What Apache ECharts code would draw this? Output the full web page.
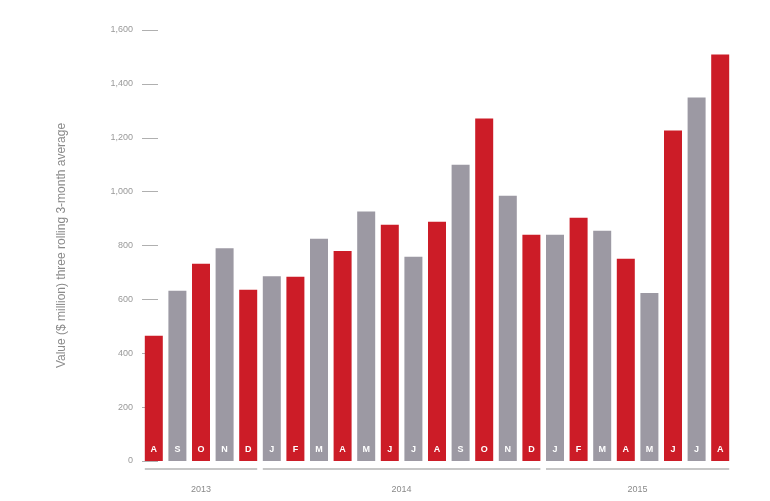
<!DOCTYPE html>
<html>
<head>
<meta charset="utf-8">
<script src="https://cdn.jsdelivr.net/npm/echarts@6/dist/echarts.min.js"></script>
<style>html,body{margin:0;padding:0;background:#fff;}#c{width:770px;height:501px;}</style>
</head>
<body>
<div id="c"></div>
<script>
var months = ['A','S','O','N','D','J','F','M','A','M','J','J','A','S','O','N','D','J','F','M','A','M','J','J','A'];
var values = [465,632,732,790,636,686,684,825,780,926,877,758,888,1100,1271,985,840,840,903,855,751,624,1227,1349,1509];
var years = ['2013','2014','2015'];
var yearStart = [0,5,17];
var yearEnd = [4,16,24];
var yTicks = [0,200,400,600,800,1000,1200,1400,1600];

var RED = '#cc1c27', GRAY = '#9c99a3';
var cats = months.map(function(m,i){return i+'';});
var yearData = years.map(function(y,i){return [yearStart[i], yearEnd[i], y];});

var chart = echarts.init(document.getElementById('c'), null, {renderer:'canvas'});
chart.setOption({
  animation:false,
  grid:{left:142,right:38,top:30,bottom:40},
  xAxis:{type:'category',data:cats,axisLine:{show:false},axisTick:{show:false},axisLabel:{show:false},splitLine:{show:false}},
  yAxis:{type:'value',min:yTicks[0],max:yTicks[yTicks.length-1],interval:200,
    name:'Value ($ million) three rolling 3-month average',nameLocation:'middle',nameGap:74,nameRotate:90,
    nameTextStyle:{color:'#8a8a8a',fontSize:12,fontFamily:'Liberation Sans'},
    axisLine:{show:false},
    axisTick:{show:true,inside:true,length:16,lineStyle:{color:'#b0b0b0',width:1}},
    splitLine:{show:false},
    axisLabel:{color:'#999',fontSize:9,margin:9,fontFamily:'Liberation Sans',
      formatter:function(v){return v.toLocaleString('en-US');}}
  },
  series:[{
    type:'bar',barWidth:18,z:3,
    data:values.map(function(v,i){return {value:v,itemStyle:{color:i%2===0?RED:GRAY}};}),
    label:{show:true,position:'insideBottom',distance:7,color:'#fff',fontSize:9,fontWeight:'bold',fontFamily:'Liberation Sans',
      formatter:function(p){return months[p.dataIndex];}}
  },{
    type:'custom',clip:false,silent:true,z:4,
    data:yearData,
    encode:{x:[0,1]},
    renderItem:function(params,api){
      var s=api.value(0), e=api.value(1);
      var p0=api.coord([s,0]), p1=api.coord([e,0]);
      var x0=p0[0]-9, x1=p1[0]+9, y=p0[1]+8;
      return {type:'group',children:[
        {type:'line',shape:{x1:x0,y1:y,x2:x1,y2:y},style:{stroke:'#b5b5b5',lineWidth:1.5}},
        {type:'text',style:{text:yearData[params.dataIndex][2],x:(x0+x1)/2,y:y+21,textAlign:'center',textVerticalAlign:'middle',fill:'#8a8a8a',font:'9px Liberation Sans'}}
      ]};
    }
  }]
});
</script>
</body>
</html>
